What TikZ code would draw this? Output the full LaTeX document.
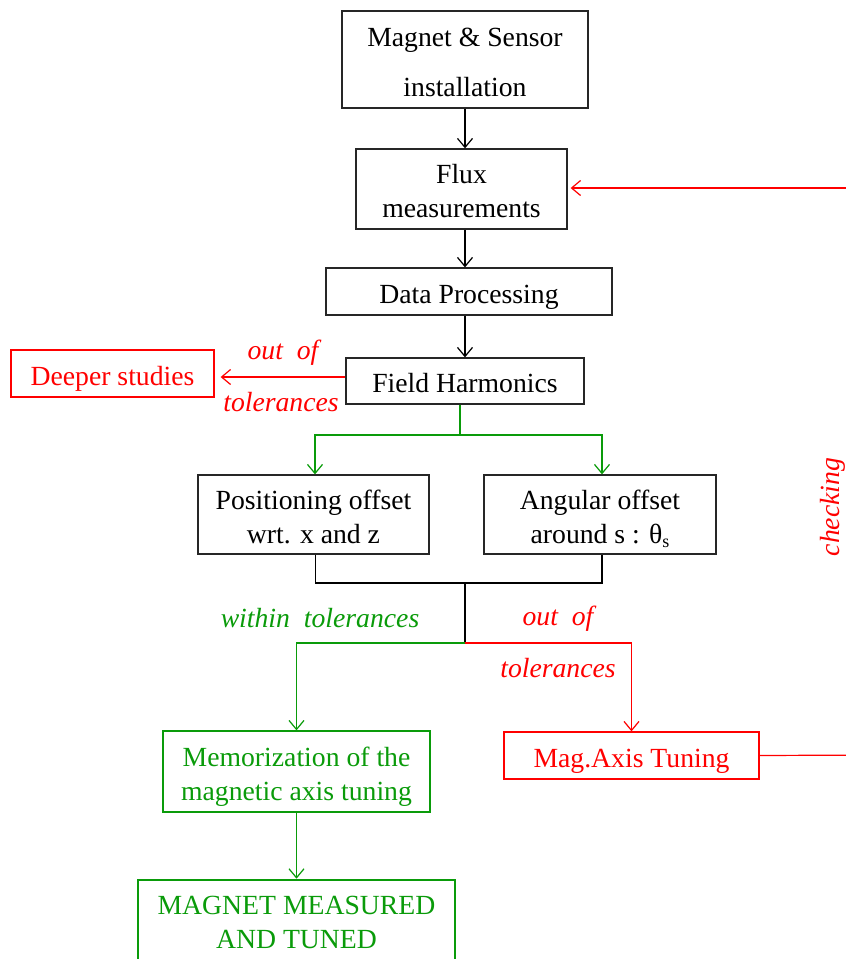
\documentclass[tikz,border=0pt]{standalone}
\usepackage{fontspec}
\setmainfont{Liberation Serif}
\usetikzlibrary{arrows.meta}
\definecolor{myred}{RGB}{255,0,0}
\definecolor{mygreen}{RGB}{10,155,10}
\newcommand{\boxtext}[1]{\raisebox{-5pt}[\height][\depth]{\begin{tabular}{@{}c@{}}#1\end{tabular}}}
\begin{document}
\begin{tikzpicture}[x=1pt,y=-1pt,
  every node/.style={font=\fontsize{27.7}{34}\selectfont, inner sep=0pt},
  box/.style={draw=black!85, line width=1.3pt, align=center},
  redbox/.style={draw=myred, text=myred, line width=1.3pt, align=center},
  greenbox/.style={draw=mygreen, text=mygreen, line width=1.3pt, align=center},
  conn/.style={line width=1.2pt, -{Straight Barb[length=9pt,width=15pt,line width=1.2pt]}},
  plain/.style={line width=1.2pt},
  lbl/.style={font=\fontsize{27.7}{34}\selectfont\itshape}]
\useasboundingbox (0,0) rectangle (846,959);

% nodes
\node[box, minimum width=246pt, minimum height=97pt] (ms) at (465,59.5) {\boxtext{Magnet \& Sensor\\[16pt]installation}};
\node[box, minimum width=211pt, minimum height=80pt] (fm) at (461.5,189) {\boxtext{Flux\\measurements}};
\node[box, minimum width=286pt, minimum height=47pt] (dp) at (469,291.5) {\boxtext{Data Processing}};
\node[box, minimum width=238pt, minimum height=46pt] (fh) at (465,381) {\boxtext{Field Harmonics}};
\node[redbox, minimum width=203pt, minimum height=47pt] (ds) at (112.5,373.5) {\boxtext{Deeper studies}};
\node[box, minimum width=231pt, minimum height=79pt] (po) at (313.5,514.5) {\boxtext{Positioning offset\\wrt. x and z}};
\node[box, minimum width=232pt, minimum height=79pt] (ao) at (600,514.5) {\boxtext{Angular offset\\around s : θ\raisebox{-0.35ex}{\fontsize{18}{18}\selectfont s}}};
\node[greenbox, minimum width=267pt, minimum height=81pt] (mem) at (296.5,771.5) {\boxtext{Memorization of the\\magnetic axis tuning}};
\node[redbox, minimum width=255pt, minimum height=47pt] (mag) at (631.5,755.5) {\boxtext{Mag.Axis Tuning}};
\node[draw=mygreen, text=mygreen, line width=2.6pt, minimum width=317pt, minimum height=95pt, align=center,
      text depth=0pt] (mt) at (296.5,927.5) {\raisebox{30pt}{\parbox{317pt}{\centering MAGNET MEASURED\\AND TUNED}}};

% labels
\node[lbl, text=myred] (l1) at (283,353) {out\ \ of};
\node[lbl, text=myred] (l2) at (281,402) {tolerances};
\node[lbl, text=mygreen] (l3) at (320,618) {within\ \ tolerances};
\node[lbl, text=myred] (l4) at (558,619) {out\ \ of};
\node[lbl, text=myred] (l5) at (558,668) {tolerances};
\node[lbl, text=myred, rotate=90, anchor=base] (l6) at (839,507) {checking};

% coordinates
\coordinate (fork) at (460,435);
\coordinate (join) at (465,583);
\coordinate (split) at (465,643);
\coordinate (fbout) at (880,755);
\coordinate (fbin) at (880,188);

% black connectors
\draw[conn] (ms.south) -- (ms.south |- fm.north);
\draw[conn] (fm.south -| ms.south) -- (ms.south |- dp.north);
\draw[conn] (dp.south -| ms.south) -- (ms.south |- fh.north);
\draw[plain] ([xshift=2pt]po.south) |- (join) -| ([xshift=2pt]ao.south);
\draw[plain] (join) -- (split);

% red to deeper studies
\draw[conn, myred, shorten >=6pt] ([yshift=4pt]fh.west) -- ([yshift=4pt]fh.west -| ds.east);

% green fork
\draw[plain, mygreen] ([xshift=-5pt]fh.south) -- (fork);
\draw[conn, mygreen] (fork) -| ([xshift=1.5pt]po.north);
\draw[conn, mygreen] (fork) -| ([xshift=2pt]ao.north);

% split
\draw[conn, mygreen] (split) -| (mem.north);
\draw[conn, myred] (split) -| (mag.north);
\draw[conn, mygreen] (mem.south) -- (mt.north);

% feedback
\draw[plain, myred] (mag.east) -- (fbout);
\draw[conn, myred, shorten >=3pt] (fbin) -- (fbin -| fm.east);
\end{tikzpicture}
\end{document}
